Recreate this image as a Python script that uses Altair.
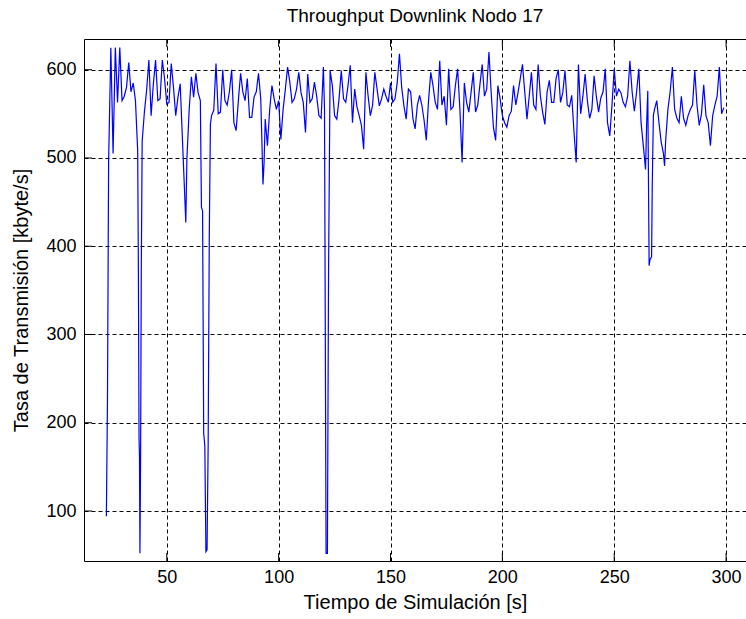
import altair as alt
import pandas as pd

# Simulation time [s] and downlink throughput [kbyte/s] for node 17
time_s = [
    23, 23.5, 24, 25, 26, 27, 28, 29, 30, 31, 32, 33, 34, 35, 36, 37, 37.3, 37.6, 37.8, 38,
    38.3, 38.6, 39, 40, 41, 42, 43, 44, 45, 46, 47, 48, 49, 50, 51, 52, 53, 54, 55, 56,
    57, 58, 58.5, 59, 60, 61, 62, 63, 64, 65, 65.5, 66, 66.5, 67, 67.5, 68, 68.5, 69, 69.5, 70,
    71, 72, 73, 74, 75, 76, 77, 78, 79, 80, 81, 82, 83, 84, 85, 86, 87, 88, 89, 90,
    91, 92, 92.5, 93, 93.5, 94, 95, 96, 97, 98, 99, 100, 101, 102, 103, 104, 105, 106, 107, 108,
    109, 110, 111, 112, 113, 114, 115, 116, 117, 118, 119, 120, 120.5, 121.2, 121.8, 122.3, 123, 124, 125, 126,
    127, 128, 129, 130, 131, 132, 133, 134, 135, 136, 137, 138, 139, 140, 141, 142, 143, 144, 145, 146,
    147, 148, 149, 150, 151, 152, 153, 154, 155, 156, 157, 158, 159, 160, 161, 162, 163, 164, 165, 166,
    167, 168, 169, 170, 171, 172, 173, 174, 175, 176, 177, 178, 179, 180, 181, 182, 183, 184, 185, 186,
    187, 188, 189, 190, 191, 192, 193, 194, 195, 196, 197, 198, 199, 200, 201, 202, 203, 204, 205, 206,
    207, 208, 209, 210, 211, 212, 213, 214, 215, 216, 217, 218, 219, 220, 221, 222, 223, 224, 225, 226,
    227, 228, 229, 230, 231, 232, 233, 234, 235, 236, 237, 238, 239, 240, 241, 242, 243, 244, 245, 246,
    247, 248, 249, 250, 251, 252, 253, 254, 255, 256, 257, 258, 259, 260, 261, 262, 263, 264, 264.5, 265,
    265.3, 265.6, 266, 266.7, 267, 267.5, 268, 269, 270, 271, 272, 272.5, 273, 274, 275, 276, 277, 278, 279, 280,
    281, 282, 283, 284, 285, 286, 287, 288, 289, 290, 291, 292, 293, 294, 295, 296, 297, 298, 299,
]
rate_kbyte_s = [
    94, 229, 495, 625, 505, 625, 563, 625, 565, 570, 580, 608, 575, 585, 565, 508, 376, 183, 162, 52,
    162, 370, 519, 552, 577, 611, 548, 584, 611, 565, 567, 611, 590, 561, 563, 607, 580, 548, 569, 584,
    521, 459, 427, 500, 554, 592, 569, 596, 574, 565, 444, 440, 188, 174, 54, 56, 176, 412, 538, 548,
    554, 607, 550, 552, 600, 565, 560, 575, 600, 540, 531, 565, 596, 575, 565, 590, 546, 546, 569, 575,
    596, 567, 521, 470, 495, 544, 514, 555, 582, 567, 555, 565, 521, 555, 578, 603, 586, 563, 567, 578,
    597, 574, 563, 529, 595, 563, 567, 586, 570, 548, 545, 603, 555, 52, 52, 366, 599, 582, 548, 544,
    567, 599, 567, 563, 582, 605, 540, 578, 558, 548, 537, 510, 597, 570, 548, 560, 597, 578, 559, 567,
    578, 570, 563, 585, 563, 567, 585, 618, 580, 559, 544, 578, 575, 545, 533, 560, 571, 560, 543, 520,
    565, 597, 582, 563, 555, 610, 560, 570, 537, 601, 555, 558, 582, 601, 556, 495, 585, 563, 552, 574,
    597, 552, 560, 584, 606, 570, 578, 620, 574, 535, 520, 582, 567, 548, 540, 535, 548, 553, 582, 560,
    574, 590, 606, 575, 544, 570, 597, 560, 555, 606, 570, 552, 538, 575, 588, 563, 563, 590, 600, 563,
    574, 599, 560, 558, 571, 530, 495, 606, 550, 570, 595, 565, 545, 555, 593, 570, 552, 568, 575, 601,
    540, 525, 560, 601, 570, 578, 574, 563, 558, 570, 610, 575, 553, 575, 601, 540, 514, 487, 540, 576,
    476, 378, 385, 388, 469, 548, 555, 565, 540, 518, 505, 491, 520, 555, 575, 603, 555, 545, 540, 570,
    545, 537, 548, 555, 560, 599, 560, 537, 550, 583, 548, 540, 514, 548, 560, 570, 603, 550, 557,
]

x_ticks = [50, 100, 150, 200, 250, 300]
y_ticks = [100, 200, 300, 400, 500, 600]

FONT = "Liberation Sans"
W, H = 662, 522
TICK_LEN = 8

series = pd.DataFrame({"t": time_s, "rate": rate_kbyte_s})
xt = pd.DataFrame({"tick": x_ticks})
yt = pd.DataFrame({"tick": y_ticks})

x_scale = alt.Scale(domain=[13.0, 308.9], nice=False, zero=False)
y_scale = alt.Scale(domain=[43.35, 634.8], nice=False, zero=False)

common_axis = dict(
    grid=True, gridColor="black", gridDash=[4, 3], gridWidth=1, gridOpacity=1,
    ticks=False, domain=False,
    labelFont=FONT, labelFontSize=18, labelColor="black",
    titleFont=FONT, titleFontSize=20, titleColor="black", titleFontWeight="normal",
)
x_axis = alt.Axis(values=x_ticks, title="Tiempo de Simulación [s]", labelPadding=7,
                  titlePadding=6, **common_axis)
y_axis = alt.Axis(values=y_ticks, title="Tasa de Transmisión [kbyte/s]", labelPadding=8,
                  titlePadding=14, **common_axis)

line = alt.Chart(series).mark_line(color="#0000ff", strokeWidth=1.2).encode(
    x=alt.X("t:Q", scale=x_scale, axis=x_axis),
    y=alt.Y("rate:Q", scale=y_scale, axis=y_axis),
)

# inward tick marks on the bottom, top and left edges of the box
bottom_ticks = alt.Chart(xt).mark_rule(color="black", strokeWidth=1).encode(
    x=alt.X("tick:Q", scale=x_scale, axis=x_axis),
    y=alt.value(H), y2=alt.value(H - TICK_LEN),
)
top_ticks = alt.Chart(xt).mark_rule(color="black", strokeWidth=1).encode(
    x=alt.X("tick:Q", scale=x_scale, axis=x_axis),
    y=alt.value(0), y2=alt.value(TICK_LEN),
)
left_ticks = alt.Chart(yt).mark_rule(color="black", strokeWidth=1).encode(
    y=alt.Y("tick:Q", scale=y_scale, axis=y_axis),
    x=alt.value(0), x2=alt.value(TICK_LEN),
)

chart = alt.layer(line, bottom_ticks, top_ticks, left_ticks).properties(
    width=W,
    height=H,
    title=alt.TitleParams("Throughput Downlink Nodo 17", font=FONT, fontSize=19,
                          fontWeight="normal", color="black", anchor="middle", offset=13),
    padding={"left": 84, "top": 39, "right": 0, "bottom": 58},
    autosize=alt.AutoSizeParams(type="none"),
    background="white",
).configure_view(stroke="black", strokeWidth=1)

chart.save("out.html", embed_options={"renderer": "svg", "actions": False})
